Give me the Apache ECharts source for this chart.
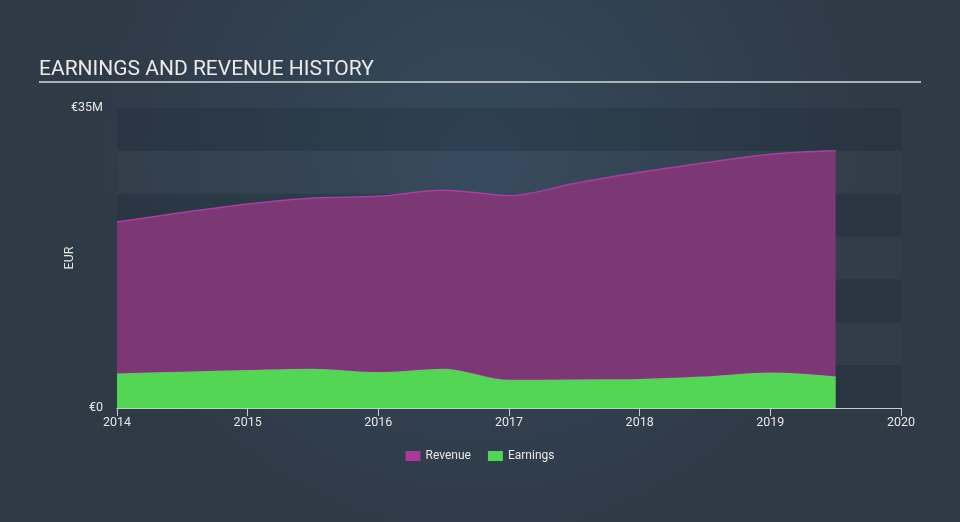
<!DOCTYPE html>
<html><head><meta charset="utf-8">
<script src="https://cdn.jsdelivr.net/npm/echarts@6/dist/echarts.min.js"></script>
<style>html,body{margin:0;padding:0;background:#323f4e}#c{width:960px;height:522px}</style>
</head><body><div id="c"></div>
<script>
const years = [2014.0, 2014.5, 2015.0, 2015.5, 2016.0, 2016.5, 2017.0, 2017.5, 2018.0, 2018.5, 2019.0, 2019.5];
const revenue = [21.7, 22.8, 23.8, 24.5, 24.7, 25.4, 24.8, 26.2, 27.5, 28.6, 29.6, 30.0];
const earnings = [3.95, 4.15, 4.35, 4.5, 4.1, 4.5, 3.2, 3.25, 3.3, 3.6, 4.05, 3.6];
const yTickLabels = {0: '€0', 35: '€35M'};
const titleText = 'EARNINGS AND REVENUE HISTORY';

const chart = echarts.init(document.getElementById('c'), null, {renderer: 'canvas'});
const pair = (ys) => years.map((x, i) => [x, ys[i]]);
chart.setOption({
  backgroundColor: {
    type: 'radial', x: 0.5, y: 0.3, r: 0.75,
    colorStops: [{offset: 0, color: '#35495c'}, {offset: 1, color: '#2f3a47'}]
  },
  textStyle: {fontFamily: 'Roboto'},
  title: {
    text: titleText, left: 34, top: 54,
    textStyle: {color: '#eaeaea', fontSize: 21, fontWeight: 'normal', fontFamily: 'Roboto'}
  },
  graphic: [{
    type: 'line', shape: {x1: 39, y1: 82, x2: 921, y2: 82},
    style: {stroke: '#aab2ba', lineWidth: 2}
  }],
  legend: {
    bottom: 55, left: 'center', itemWidth: 15, itemHeight: 10, itemGap: 17,
    icon: 'rect',
    textStyle: {color: '#e8e8e8', fontSize: 12},
    data: [{name: 'Revenue', itemStyle: {color: '#a9399a'}}, {name: 'Earnings', itemStyle: {color: '#4fd653'}}]
  },
  grid: {left: 117, right: 59, top: 108, bottom: 114},
  xAxis: {
    type: 'value', min: 2014, max: 2020, interval: 1,
    axisLine: {lineStyle: {color: '#c8ccd2', width: 1}},
    axisTick: {show: true, length: 8, lineStyle: {color: '#c8ccd2'}},
    axisLabel: {color: '#e6e6e6', fontSize: 12.5, margin: 8, formatter: v => String(Math.round(v))},
    splitLine: {show: false}
  },
  yAxis: {
    type: 'value', min: 0, max: 35, interval: 5,
    name: 'EUR', nameLocation: 'middle', nameGap: 41, nameRotate: 90, nameMoveOverlap: false,
    nameTextStyle: {color: '#e6e6e6', fontSize: 12.5},
    axisLine: {show: false}, axisTick: {show: false},
    axisLabel: {color: '#e6e6e6', fontSize: 12.5, margin: 14,
      formatter: v => (yTickLabels[v] !== undefined ? yTickLabels[v] : '')},
    splitLine: {show: false},
    splitArea: {show: true, areaStyle: {color: ['rgba(25,35,47,0.22)', 'rgba(255,255,255,0.015)']}}
  },
  series: [{
    name: 'Revenue', type: 'line', data: pair(revenue), smooth: 0.35, symbol: 'none',
    lineStyle: {color: '#b23aa3', width: 1.5},
    itemStyle: {color: '#a9399a'},
    areaStyle: {color: '#7b3875', opacity: 1},
    z: 2
  }, {
    name: 'Earnings', type: 'line', data: pair(earnings), smooth: 0.35, symbol: 'none',
    lineStyle: {color: '#4fd653', width: 1.5},
    itemStyle: {color: '#4fd653'},
    areaStyle: {color: '#52d653', opacity: 1},
    z: 3
  }]
});
</script></body></html>
